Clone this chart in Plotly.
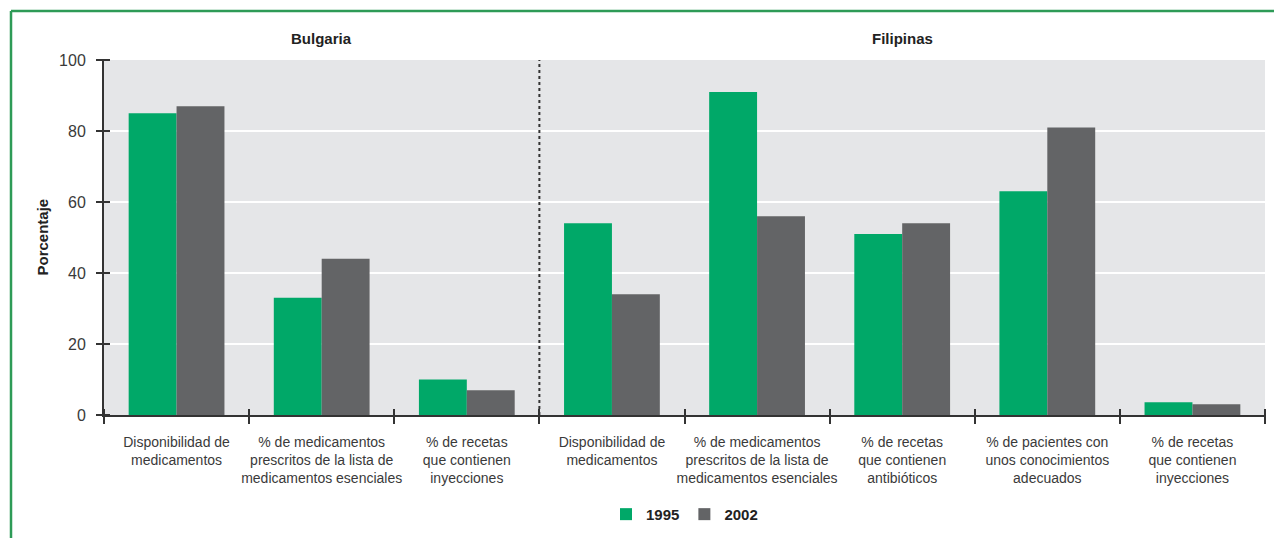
import plotly.graph_objects as go

# etiquetas de categorías (Bulgaria: 0-2, Filipinas: 3-7)
categorias = [
    "Disponibilidad de<br>medicamentos",
    "% de medicamentos<br>prescritos de la lista de<br>medicamentos esenciales",
    "% de recetas<br>que contienen<br>inyecciones",
    "Disponibilidad de<br>medicamentos",
    "% de medicamentos<br>prescritos de la lista de<br>medicamentos esenciales",
    "% de recetas<br>que contienen<br>antibióticos",
    "% de pacientes con<br>unos conocimientos<br>adecuados",
    "% de recetas<br>que contienen<br>inyecciones",
]
valores_1995 = [85, 33, 10, 54, 91, 51, 63, 3.6]
valores_2002 = [87, 44, 7, 34, 56, 54, 81, 3]
paises = ["Bulgaria", "Filipinas"]
pais_centro = [1, 5]
divisor = 2.5
y_ticks = [0, 20, 40, 60, 80, 100]

VERDE = "#00a868"
GRIS = "#636466"
FONDO = "#e5e6e8"
TEXTO = "#3a3a3a"
BORDE = "#2e9b57"
FUENTE = "Liberation Sans Narrow, Liberation Sans, Arial, sans-serif"

# la página tiene 8 px de margen en el body: se descuenta aquí
OFF = 8

x = list(range(len(categorias)))
limites = [i - 0.5 for i in range(len(categorias) + 1)]

fig = go.Figure()
fig.add_trace(go.Bar(x=x, y=valores_1995, name="<b>1995</b>", marker_color=VERDE,
                     marker_line_width=0))
fig.add_trace(go.Bar(x=x, y=valores_2002, name="<b>2002</b>", marker_color=GRIS,
                     marker_line_width=0))

# marcas que cruzan los ejes
fig.add_trace(go.Scatter(x=[0], y=[0], xaxis="x2", yaxis="y2", mode="markers",
                         marker_opacity=0, showlegend=False, hoverinfo="skip"))

fig.update_layout(
    width=1282 - OFF, height=538 - OFF,
    margin=dict(l=104 - OFF, r=17, t=60 - OFF, b=123, autoexpand=False),
    paper_bgcolor="white", plot_bgcolor=FONDO,
    font=dict(family=FUENTE, color=TEXTO, size=14),
    barmode="group", bargap=0.34, bargroupgap=0,
    showlegend=True,
    legend=dict(orientation="h", x=0.5, xanchor="center", y=-0.28, yanchor="middle",
                font=dict(size=15, color="#222"), traceorder="normal"),
    xaxis=dict(range=[-0.5, 7.5], tickvals=x, ticktext=categorias, ticks="",
               tickangle=0, automargin=False,
               showgrid=False, zeroline=False, showline=True, linecolor="#333",
               linewidth=2, tickfont=dict(size=14), ticklabelstandoff=13),
    yaxis=dict(range=[0, 100], tickvals=y_ticks, ticks="", showgrid=True,
               automargin=False,
               gridcolor="white", gridwidth=2, zeroline=False, showline=True,
               linecolor="#333", linewidth=2, tickfont=dict(size=16),
               ticklabelstandoff=13),
    xaxis2=dict(overlaying="x", anchor="free", position=7 / 355, range=[-0.5, 7.5],
                tickvals=limites, ticks="outside", ticklen=15, tickwidth=2,
                tickcolor="#333", showticklabels=False, showgrid=False,
                zeroline=False, showline=False, automargin=False),
    yaxis2=dict(overlaying="y", anchor="free", position=6 / 1161, range=[0, 100],
                tickvals=y_ticks, ticks="outside", ticklen=14, tickwidth=1.5,
                tickcolor="#333", showticklabels=False, showgrid=False,
                zeroline=False, showline=False, automargin=False),
)

# línea divisoria punteada
fig.add_shape(type="line", xref="x", yref="y", x0=divisor, x1=divisor, y0=0, y1=100,
              line=dict(color="#333", width=2, dash="dot"))

# borde verde (arriba e izquierda)
fig.add_shape(type="line", xref="paper", yref="paper",
              x0=-93 / 1161, x1=-93 / 1161, y0=-0.5, y1=404 / 355,
              line=dict(color=BORDE, width=2.5))
fig.add_shape(type="line", xref="paper", yref="paper",
              x0=-93 / 1161, x1=1.1, y0=404 / 355, y1=404 / 355,
              line=dict(color=BORDE, width=2.5))

for p, c in zip(paises, pais_centro):
    fig.add_annotation(x=c, y=377 / 355, xref="x", yref="paper", text=f"<b>{p}</b>",
                       xanchor="center", yanchor="middle",
                       showarrow=False, font=dict(size=15, color="#222"))

fig.add_annotation(x=-62 / 1161, y=0.5, xref="paper", yref="paper",
                   text="<b>Porcentaje</b>", textangle=-90, showarrow=False,
                   xanchor="center", yanchor="middle",
                   font=dict(size=15, color="#222"))

fig.write_html("out.html")
